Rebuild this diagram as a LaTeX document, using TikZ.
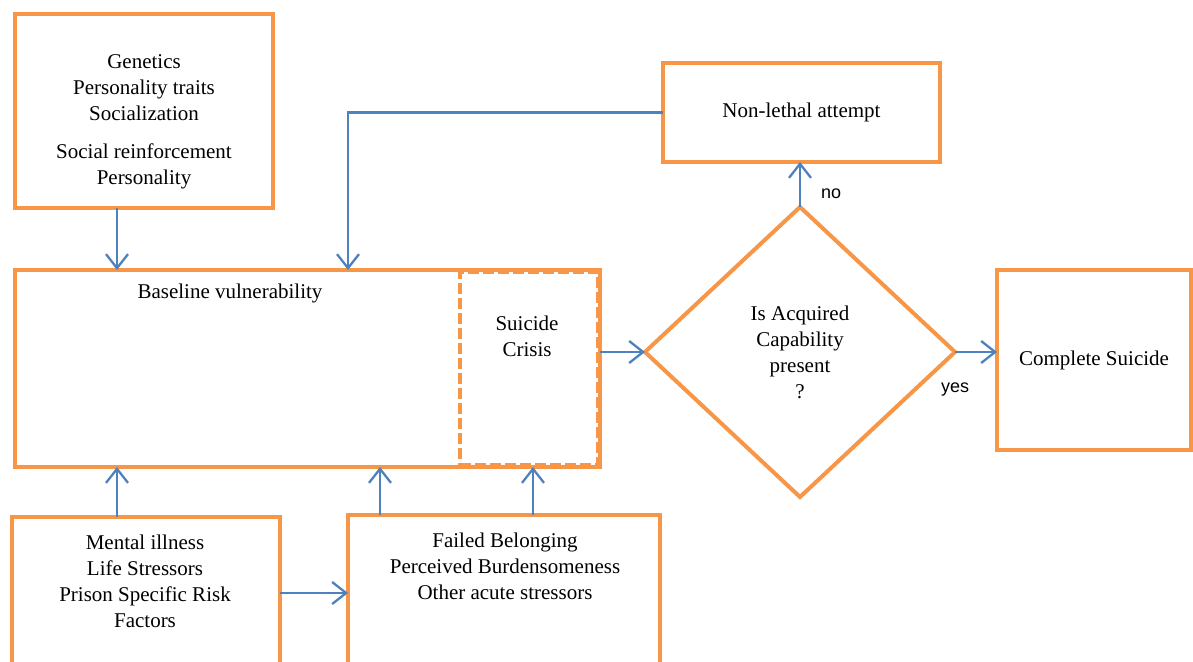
\documentclass[tikz,border=0pt]{standalone}
\usepackage{fontspec}
\setmainfont{Liberation Serif}
\newfontfamily\yesnofont{Liberation Sans}
\usetikzlibrary{shapes.geometric, arrows.meta}
\definecolor{boxorange}{RGB}{247,150,70}
\definecolor{linkblue}{RGB}{79,129,189}

\begin{document}
\begin{tikzpicture}[x=1pt, y=-1pt,
    obox/.style={draw=boxorange, line width=4pt, fill=white, inner sep=0pt, outer sep=0pt},
    txt/.style={font=\fontsize{21}{26}\selectfont, align=center, inner sep=0pt},
    link/.style={draw=linkblue, line width=2.3pt, -{Straight Barb[length=14pt, width=22pt]}},
    yesno/.style={font=\yesnofont\fontsize{18}{20}\selectfont, inner sep=0pt}]

    % 背景と枠
    \useasboundingbox[fill=white] (0,0) rectangle (1193,661);
    \clip (0,0) rectangle (1193,661);

    % 箱
    \node[obox, minimum width=258pt, minimum height=194pt] (gen) at (144,111) {};
    \node[obox, minimum width=585pt, minimum height=197pt] (base) at (307.5,368.5) {};
    \node[obox, dash pattern=on 11pt off 4pt, minimum width=138pt, minimum height=193pt] (crisis) at (529,368.5) {};
    \node[obox, minimum width=268pt, minimum height=183pt] (mental) at (146,608.5) {};
    \node[obox, minimum width=312pt, minimum height=185pt] (failed) at (504,607.5) {};
    \node[obox, txt, minimum width=277pt, minimum height=99pt] (nonlethal) at (801.5,112.5) {Non-lethal attempt};
    \node[obox, txt, minimum width=194pt, minimum height=180pt] (complete) at (1094,360) {Complete Suicide};
    \node[obox, txt, diamond, minimum width=310pt, minimum height=290pt] (cap) at (800,352)
        {Is Acquired\\Capability\\present\\?};

    % テキスト
    \node[txt] (gentxt) at (144,122) {Genetics\\Personality traits\\Socialization\\[12pt]Social reinforcement\\Personality};
    \node[txt] (basetxt) at (230,293) {Baseline vulnerability};
    \node[txt] (crisistxt) at (527,336) {Suicide\\Crisis};
    \node[txt] (mentaltxt) at (145,581) {Mental illness\\Life Stressors\\Prison Specific Risk\\Factors};
    \node[txt] (failedtxt) at (505,566) {Failed Belonging\\Perceived Burdensomeness\\Other acute stressors};

    % 矢印
    \coordinate (a1) at (117,0);
    \coordinate (a2) at (380,0);
    \coordinate (a3) at (533,0);
    \coordinate (a4) at (0,593);
    \coordinate (fb) at (348,0);
    \draw[link] (gen.south -| a1) -- (base.north -| a1);
    \draw[link] (nonlethal.west) -| (fb |- base.north);
    \draw[link] (mental.north -| a1) -- (base.south -| a1);
    \draw[link] (failed.north -| a2) -- (base.south -| a2);
    \draw[link] (failed.north -| a3) -- (base.south -| a3);
    \draw[link] (mental.east |- a4) -- (failed.west |- a4);
    \draw[link] (base.east |- cap.west) -- (cap.west);
    \draw[link] (cap.north) -- node[yesno, pos=0.3, right=20pt] {no} (cap.north |- nonlethal.south);
    \draw[link] (cap.east) -- node[yesno, pos=0, below=30pt] {yes} (cap.east -| complete.west);
\end{tikzpicture}
\end{document}
